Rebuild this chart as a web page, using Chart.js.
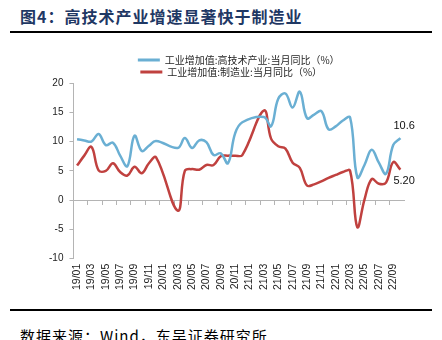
<!DOCTYPE html>
<html>
<head>
    <title>高技术产业增速显著快于制造业</title>
    <script src="https://cdn.jsdelivr.net/npm/chart.js"></script>
    <style>
        body { margin: 0; background: #fff; width: 442px; height: 340px; overflow: hidden; position: relative; }
        .title { position: absolute; left: 20px; top: 5px; font: bold 16px/22px "Noto Sans CJK SC", sans-serif; letter-spacing: 1px; color: #1f3864; white-space: nowrap; }
        .rule { position: absolute; left: 10px; width: 422px; height: 2px; background: #000; }
        .chart-box { position: absolute; left: 0; top: 40px; width: 442px; height: 262px; }
        .source { position: absolute; left: 20px; top: 327px; font: 15px/18px "Noto Sans CJK SC", sans-serif; letter-spacing: 1px; color: #000; white-space: nowrap; }
    </style>
</head>
<body>
    <div class="title">图4：高技术产业增速显著快于制造业</div>
    <div class="rule" style="top: 31px;"></div>
    <div class="chart-box"><canvas id="chart" width="442" height="262"></canvas></div>
    <div class="rule" style="top: 309px;"></div>
    <div class="source">数据来源：Wind，东吴证券研究所</div>

    <script>
        const months = [
            '19/01', '19/02', '19/03', '19/04', '19/05', '19/06', '19/07', '19/08', '19/09', '19/10', '19/11', '19/12',
            '20/01', '20/02', '20/03', '20/04', '20/05', '20/06', '20/07', '20/08', '20/09', '20/10', '20/11', '20/12',
            '21/01', '21/02', '21/03', '21/04', '21/05', '21/06', '21/07', '21/08', '21/09', '21/10', '21/11', '21/12',
            '22/01', '22/02', '22/03', '22/04', '22/05', '22/06', '22/07', '22/08', '22/09', '22/10'
        ];
        // 1-2月数据缺失（20年、21年），折线跨过空缺
        const hiTech = [
            10.4, 10.2, 10.0, 11.3, 9.4, 9.8, 7.6, 5.8, 11.0, 8.4, 9.3, 10.1,
            null, null, 8.9, 10.6, 8.9, 10.2, 9.9, 7.7, 8.0, 6.3, 11.4, 13.3,
            null, null, 14.2, 12.6, 17.3, 18.2, 15.8, 18.5, 14.0, 14.6, 15.2, 12.1,
            12.6, 13.6, 14.1, 3.9, 6.0, 8.6, 6.4, 4.5, 9.4, 10.6
        ];
        const manuf = [
            5.9, 7.6, 9.1, 5.1, 5.0, 6.3, 4.8, 4.2, 5.7, 4.6, 6.3, 7.3,
            null, null, -1.8, 5.0, 5.3, 5.2, 6.0, 6.0, 7.5, 7.6, 7.6, 7.7,
            null, null, 15.3, 10.5, 9.2, 8.8, 6.4, 5.5, 2.5, 2.7, 3.2, 3.8,
            4.3, 4.8, 5.0, -4.6, 0.1, 3.6, 2.8, 3.0, 6.5, 5.2
        ];
        const seriesNames = ['工业增加值:高技术产业:当月同比（%）', '工业增加值:制造业:当月同比（%）'];
        const seriesColors = ['#6aafd3', '#c0413f'];
        const yTicks = { min: -10, max: 20, step: 5 };

        const axisGray = '#b4b4b4';
        const textColor = '#222';
        Chart.defaults.font.family = '"Liberation Sans", Arial, sans-serif';
        Chart.defaults.font.size = 10;

        // 末端数值标注
        const endLabels = {
            id: 'endLabels',
            afterDatasetsDraw(chart) {
                const ctx = chart.ctx;
                const offsets = [-12, 11];
                chart.data.datasets.forEach((ds, i) => {
                    const pts = chart.getDatasetMeta(i).data;
                    const last = pts[pts.length - 1];
                    const val = ds.data[ds.data.length - 1];
                    ctx.save();
                    ctx.font = '11px "Liberation Sans", Arial, sans-serif';
                    ctx.fillStyle = '#111';
                    ctx.textAlign = 'left';
                    ctx.textBaseline = 'middle';
                    ctx.fillText(val.toPrecision(3), last.x - 7, last.y + offsets[i]);
                    ctx.restore();
                });
            }
        };

        const lineStyle = (color) => ({
            borderColor: color,
            backgroundColor: color,
            borderWidth: 2.5,
            pointRadius: 0,
            tension: 0.4,
            spanGaps: true,
            fill: false
        });

        new Chart(document.getElementById('chart'), {
            type: 'line',
            data: {
                labels: months,
                datasets: [
                    { label: seriesNames[0], data: hiTech, ...lineStyle(seriesColors[0]) },
                    { label: seriesNames[1], data: manuf, ...lineStyle(seriesColors[1]) }
                ]
            },
            options: {
                responsive: false,
                animation: false,
                layout: { padding: { top: 13, left: 43, right: 38, bottom: 7 } },
                plugins: {
                    tooltip: { enabled: false },
                    legend: {
                        position: 'top',
                        fullSize: false,
                        maxHeight: 30,
                        labels: {
                            boxWidth: 22,
                            boxHeight: 3,
                            padding: 2,
                            color: '#262626',
                            font: { family: '"Noto Sans CJK SC", sans-serif', size: 10 },
                            generateLabels(chart) {
                                const items = Chart.defaults.plugins.legend.labels.generateLabels(chart);
                                const maxLen = Math.max(...items.map(it => it.text.length));
                                return items.map(it => Object.assign(it, {
                                    fillStyle: it.strokeStyle,
                                    lineWidth: 0,
                                    text: it.text + '\u3000'.repeat(maxLen - it.text.length)
                                }));
                            }
                        }
                    }
                },
                scales: {
                    x: {
                        type: 'category',
                        offset: true,
                        grid: { display: false, drawTicks: false },
                        border: { display: false },
                        ticks: {
                            autoSkip: false,
                            minRotation: 90,
                            maxRotation: 90,
                            padding: 5,
                            color: textColor,
                            font: { size: 10.5 },
                            callback: (v, i) => (i % 2 === 0 ? months[i] : '')
                        }
                    },
                    xZero: {
                        type: 'category',
                        position: { y: 0 },
                        offset: true,
                        grid: {
                            offset: true,
                            drawOnChartArea: false,
                            drawTicks: true,
                            tickLength: 4,
                            color: (c) => (c.index % 2 === 0 ? axisGray : 'rgba(0,0,0,0)')
                        },
                        border: { display: true, color: axisGray, width: 1 },
                        ticks: { display: false, autoSkip: false }
                    },
                    y: {
                        min: yTicks.min,
                        max: yTicks.max,
                        ticks: { stepSize: yTicks.step, padding: 6, color: textColor },
                        grid: { drawOnChartArea: false, drawTicks: true, tickLength: 4, color: axisGray },
                        border: { color: axisGray }
                    }
                }
            },
            plugins: [endLabels]
        });
    </script>
</body>
</html>
